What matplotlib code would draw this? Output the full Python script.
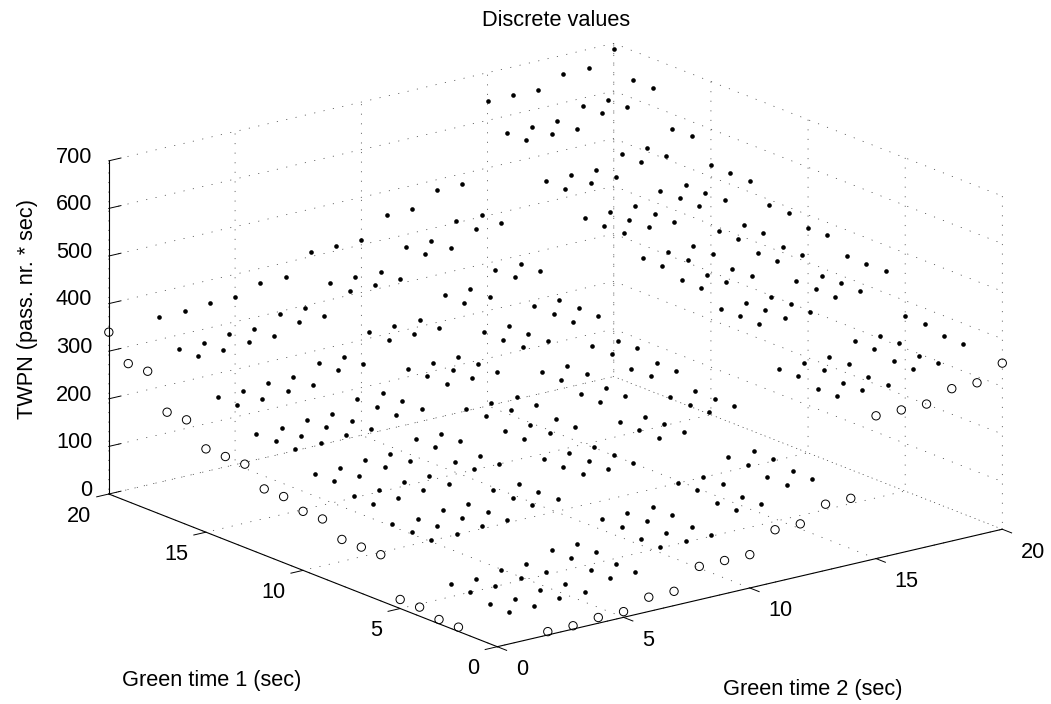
import numpy as np
import matplotlib
matplotlib.use("Agg")
import matplotlib.pyplot as plt
from matplotlib.transforms import ScaledTranslation
from mpl_toolkits.mplot3d import proj3d

plt.rcParams['font.family'] = ['Liberation Sans', 'DejaVu Sans']
plt.rcParams['lines.scale_dashes'] = False

TITLE = "Discrete values"
XLABEL = "Green time 2 (sec)"
YLABEL = "Green time 1 (sec)"
ZLABEL = "TWPN (pass. nr. * sec)"

green2 = list(range(2, 21))
green1 = list(range(2, 21))
edge_x_values = [7,7,12,12,30,30,70,70,70,110,110,139,139,300,300,300,320,320,349]
edge_y_values = [9,9,19,19,97,97,97,124,124,139,139,175,175,175,220,220,290,290,340]
r1 = [16,16,21,21,39,39,79,79,79,119,119,148,148,309,309,309,329,329,358]
r2 = [26,26,31,31,49,49,89,89,89,129,129,158,158,319,319,319,339,339,368]
r3 = [104,104,109,109,127,127,167,167,167,207,207,236,236,397,397,397,417,417,446]
r4 = [131,131,136,136,154,154,194,194,194,234,234,263,263,424,424,424,444,444,473]
r5 = [146,146,151,151,169,169,209,209,209,249,249,278,278,439,439,439,459,459,488]
r6 = [182,182,187,187,205,205,245,245,245,285,285,314,314,475,475,475,495,495,524]
r7 = [227,227,232,232,250,250,290,290,290,330,330,359,359,520,520,520,540,540,569]
r8 = [297,297,302,302,320,320,360,360,360,400,400,429,429,590,590,590,610,610,639]
r9 = [347,347,352,352,370,370,410,410,410,450,450,479,479,640,640,640,660,660,689]
twpn = [r1,r1,r2,r2,r3,r3,r3,r4,r4,r5,r5,r6,r6,r6,r7,r7,r8,r8,r9]

W, H = 1051, 704
FS = 15.7
fig = plt.figure(figsize=(W/100, H/100), dpi=100, facecolor='white')
ax = fig.add_axes([0, 0, 1, 1], projection='3d', proj_type='ortho')
ax.set_xlim(0, 20, view_margin=0)
ax.set_ylim(0, 20, view_margin=0)
ax.set_zlim(0, 700, view_margin=0)
ax.set_box_aspect((637.2, 637.2, 349.6))
ax.view_init(elev=17.6, azim=-127.57)
ax.patch.set_visible(False)

X, Y = np.meshgrid(green2, green1)
ax.scatter(X.ravel(), Y.ravel(), np.array(twpn).ravel(), s=11, c='k', linewidths=0,
           depthshade=False, clip_on=False)
ax.scatter(green2, [0]*19, edge_x_values, s=36, facecolors='none', edgecolors='k',
           linewidths=0.7, depthshade=False, clip_on=False)
ax.scatter([0]*19, green1, edge_y_values, s=36, facecolors='none', edgecolors='k',
           linewidths=0.7, depthshade=False, clip_on=False)

ax.set_xticks([0, 5, 10, 15, 20])
ax.set_yticks([0, 5, 10, 15, 20])
ax.set_zticks(range(0, 701, 100))
for a, fac in ((ax.xaxis, -0.3), (ax.yaxis, -0.3), (ax.zaxis, 0.3)):
    a.pane.set_facecolor((1, 1, 1, 0))
    a.pane.set_edgecolor((1, 1, 1, 0))
    a._axinfo['grid'].update(color='#333333', linewidth=0.5, linestyle=(0, (0.8, 6.1)))
    a._axinfo['axisline']['color'] = 'k'
    a._axinfo['tick'].update(inward_factor=0.0, outward_factor=fac, color='k')
    a._axinfo['tick']['linewidth'] = {True: 0.7, False: 0.7}
    a.line.set_linewidth(0.8)
    a.line.set_color('k')
ax.tick_params(labelsize=FS, pad=0)


def px_shift(dx, dy):
    return ScaledTranslation(dx/100, -dy/100, fig.dpi_scale_trans)


def shift_tick_labels(axis, dx, dy, ha):
    orig = axis.get_major_ticks

    def wrapped(numticks=None):
        ticks = orig(numticks)
        for t in ticks:
            t.label1.set_transform(ax.transData + px_shift(dx, dy))
            t.label1.set_ha(ha)
        return ticks
    axis.get_major_ticks = wrapped


def shift_label(axis, dx, dy):
    lab = axis.label
    orig = lab.draw

    def draw(renderer):
        lab._transform = ax.transData + px_shift(dx, dy)
        orig(renderer)
    lab.draw = draw


shift_tick_labels(ax.xaxis, 9.5, 1.4, 'left')
shift_tick_labels(ax.yaxis, -6.5, 1.5, 'right')
shift_tick_labels(ax.zaxis, 3.7, -13.5, 'right')

ax.xaxis.set_rotate_label(False)
ax.yaxis.set_rotate_label(False)
ax.zaxis.set_rotate_label(False)
ax.set_xlabel(XLABEL, fontsize=FS, labelpad=10)
ax.set_ylabel(YLABEL, fontsize=FS, labelpad=10)
ax.set_zlabel(ZLABEL, fontsize=FS, labelpad=10, rotation=90)
shift_label(ax.xaxis, 28.5, 59)
shift_label(ax.yaxis, -47, 70)
shift_label(ax.zaxis, -3, -15)
fig.text(556.5/W, 1-20.5/H, TITLE, fontsize=FS, ha='center', va='center')

# fit the cube onto the figure
O_t = np.array([497.3, H-646.7]); X_t = np.array([1002.3, H-529.3])
S = 700.0; cx, cy = W/2, H/2
def setpos():
    ax.set_position([(cx-S/2)/W, (cy-S/2)/H, S/W, S/H])
    ax.apply_aspect()
def disp(p):
    u, v, _ = proj3d.proj_transform(p[0], p[1], p[2], ax.get_proj())
    return ax.transData.transform((u, v))
for _ in range(4):
    setpos()
    o, xc = disp((0, 0, 0)), disp((20, 0, 0))
    S *= np.linalg.norm(X_t-O_t)/np.linalg.norm(xc-o)
    setpos()
    o = disp((0, 0, 0))
    cx += O_t[0]-o[0]; cy += O_t[1]-o[1]
setpos()

fig.savefig("out.png", dpi=100)
